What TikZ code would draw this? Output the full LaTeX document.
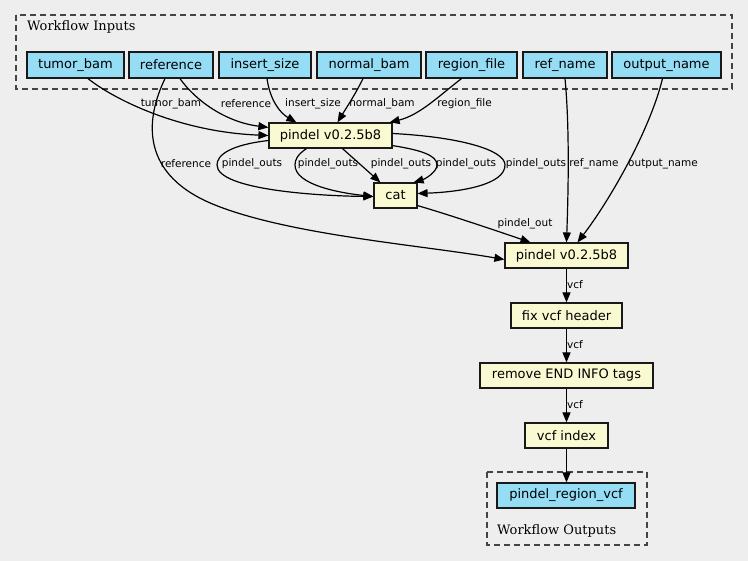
\documentclass[tikz,border=0pt]{standalone}
\usepackage{fontspec}
\setmainfont{DejaVu Sans}
\newfontfamily\clusterfont{DejaVu Serif}
\usetikzlibrary{arrows.meta}
\definecolor{bgc}{HTML}{EEEEEE}
\definecolor{inc}{HTML}{94DDF4}
\definecolor{toolc}{HTML}{FAFAD2}
\definecolor{clc}{HTML}{444444}
\begin{document}
\begin{tikzpicture}[x=1pt,y=-1pt,
  box/.style={draw=black!90, line width=1.2pt, inner sep=0pt, minimum height=25pt, font=\fontsize{13}{15}\selectfont},
  inbox/.style={box, fill=inc, minimum height=26pt},
  toolbox/.style={box, fill=toolc},
  cluster/.style={draw=clc, line width=1.3pt, dash pattern=on 6pt off 4pt},
  cltext/.style={font=\clusterfont\fontsize{13}{15}\selectfont, anchor=west, inner sep=0pt},
  conn/.style={draw=black, line width=1.2pt, -{Triangle[length=10pt,width=8pt]}},
  elab/.style={font=\fontsize{10.5}{12}\selectfont, inner sep=0pt}]
\useasboundingbox (0,0) rectangle (748,561);
\fill[bgc] (0,0) rectangle (748,561);
% clusters
\draw[cluster] (16,15) rectangle (732,89);
\node[cltext] (inlab) at (27,27) {Workflow Inputs};
\draw[cluster] (487,472) rectangle (647,545);
\node[cltext] (outlab) at (497,531) {Workflow Outputs};
% inputs
\node[inbox, minimum width=97pt] (tumor) at (75.5,65) {tumor\_bam};
\node[inbox, minimum width=84pt] (ref) at (171,65) {reference};
\node[inbox, minimum width=92pt] (ins) at (265,65) {insert\_size};
\node[inbox, minimum width=104pt] (normal) at (369,65) {normal\_bam};
\node[inbox, minimum width=91pt] (region) at (471.5,65) {region\_file};
\node[inbox, minimum width=84pt] (refname) at (565,65) {ref\_name};
\node[inbox, minimum width=109pt] (outname) at (666.5,65) {output\_name};
% tools
\node[toolbox, minimum width=123pt] (p1) at (330.5,135.5) {pindel v0.2.5b8};
\node[toolbox, minimum width=43pt] (cat) at (395.5,195.5) {cat};
\node[toolbox, minimum width=123pt] (p2) at (566.5,255.5) {pindel v0.2.5b8};
\node[toolbox, minimum width=111pt] (fix) at (566.5,315.5) {fix vcf header};
\node[toolbox, minimum width=173pt] (rem) at (566.5,375.5) {remove END INFO tags};
\node[toolbox, minimum width=83pt] (idx) at (566.5,435.5) {vcf index};
\node[inbox, minimum width=138pt, minimum height=25pt] (out) at (566,495.5) {pindel\_region\_vcf};
% edges into p1
\draw[conn] ([xshift=12.5pt]tumor.south) .. controls (115,100) and (180,132) .. (p1.west);
\draw[conn] ([xshift=9pt]ref.south) .. controls (195,100) and (225,122) .. ([yshift=-5pt]p1.north west);
\draw[conn] ([xshift=2pt]ins.south) .. controls (270,100) and (280,113) .. ([xshift=28pt]p1.north west);
\draw[conn] ([xshift=-6pt]normal.south) .. controls (355,95) and (345,110) .. ([xshift=7pt]p1.north);
\draw[conn] ([xshift=-10pt]region.south) .. controls (440,95) and (420,115) .. ([xshift=-3pt]p1.north east);
\node[elab] (l1) at (171,104) {tumor\_bam};
\node[elab] (l2) at (246,104) {reference};
\node[elab] (l3) at (313,104) {insert\_size};
\node[elab] (l4) at (382,104) {normal\_bam};
\node[elab] (l5) at (464.5,104) {region\_file};
% edges into p2
\draw[conn] ([xshift=-6pt]ref.south) .. controls (145,120) and (140,175) .. (215,205) .. controls (290,235) and (420,245) .. ([yshift=-4pt]p2.west);
\draw[conn] (refname.south) .. controls (570,130) and (568,200) .. (p2.north);
\draw[conn] ([xshift=-4pt]outname.south) .. controls (650,130) and (610,200) .. ([xshift=11pt]p2.north);
\draw[conn] ([yshift=3pt]cat.south east) .. controls (450,215) and (500,232) .. ([xshift=-36pt]p2.north);
\node[elab] (l6) at (186,164) {reference};
\node[elab] (l7) at (594,164) {ref\_name};
\node[elab] (l8) at (663,164) {output\_name};
\node[elab] (l9) at (525,224) {pindel\_out};
% p1 -> cat
\draw[conn] ([yshift=-5pt]p1.west) .. controls (230,145) and (217,155) .. (217,165) .. controls (217,190) and (320,196) .. ([yshift=-1pt]cat.west);
\draw[conn] ([xshift=38pt]p1.south west) .. controls (297,155) and (295,160) .. (295,165) .. controls (295,185) and (340,193) .. ([yshift=-1pt]cat.west);
\draw[conn] ([xshift=12pt]p1.south) -- ([xshift=7pt]cat.north west);
\draw[conn] ([yshift=3pt]p1.south east) .. controls (420,150) and (437,155) .. (437,165) .. controls (437,172) and (425,179) .. ([xshift=-4pt]cat.north east);
\draw[conn] ([yshift=2pt]p1.east) .. controls (460,137) and (505,150) .. (505,165) .. controls (505,185) and (460,192) .. ([yshift=2pt]cat.east);
\node[elab] (o1) at (252,164) {pindel\_outs};
\node[elab] (o2) at (328,164) {pindel\_outs};
\node[elab] (o3) at (401,164) {pindel\_outs};
\node[elab] (o4) at (466,164) {pindel\_outs};
\node[elab] (o5) at (536,164) {pindel\_outs};
% chain
\draw[conn] (p2.south) -- (fix.north);
\draw[conn] (fix.south) -- (rem.north);
\draw[conn] (rem.south) -- (idx.north);
\draw[conn] (idx.south) -- ([xshift=0.5pt]out.north);
\node[elab] (v1) at (575,285) {vcf};
\node[elab] (v2) at (575,345) {vcf};
\node[elab] (v3) at (575,405) {vcf};
\end{tikzpicture}
\end{document}
